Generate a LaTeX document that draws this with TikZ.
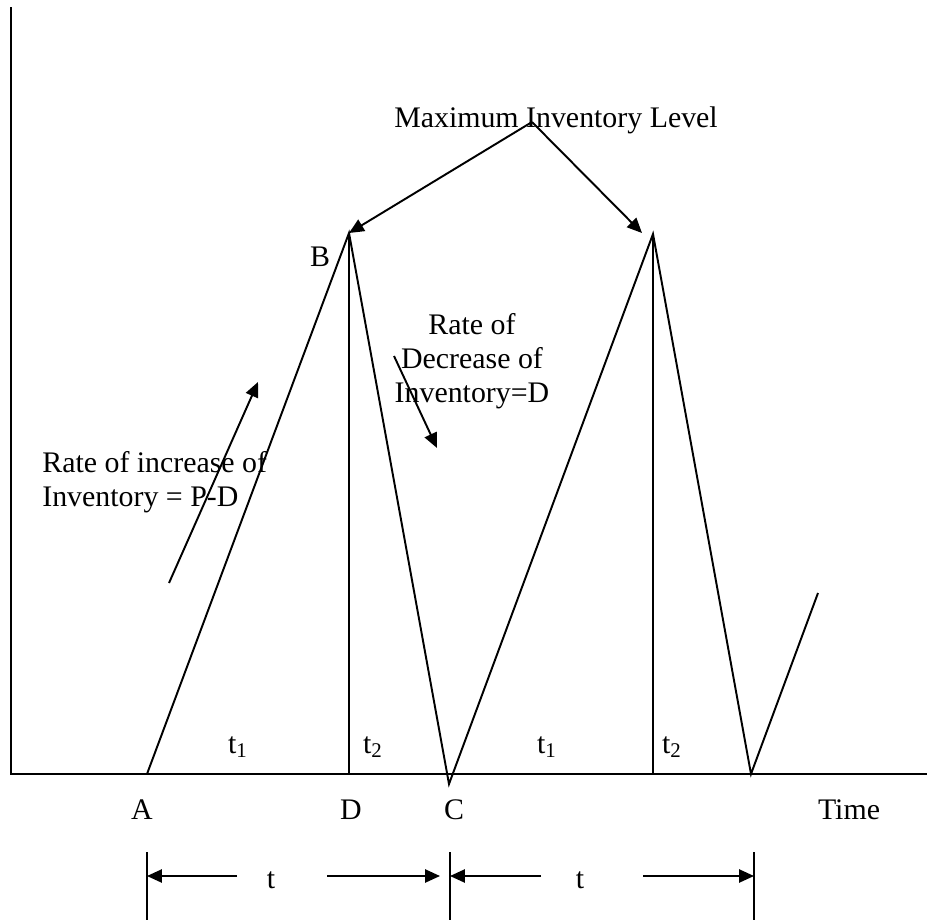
\documentclass[tikz,border=0pt]{standalone}
\usepackage{fontspec}
\setmainfont{Liberation Serif}
\usetikzlibrary{arrows.meta}

\tikzset{
  curve/.style={line width=1.1pt},
  pointer/.style={line width=1.1pt,-{Triangle[length=8.5pt,width=7.5pt]}},
  lbl/.style={font=\fontsize{17}{19.5}\selectfont, inner sep=0pt},
}

\begin{document}
\begin{tikzpicture}[x=0.02cm,y=-0.02cm]
    \useasboundingbox (0,0) rectangle (927,920);

    % axes
    \coordinate (top) at (11,7);
    \coordinate (O) at (11,774);
    \coordinate (right) at (927,774);
    \draw[curve] (top) -- (O) -- (right);

    % saw-tooth inventory curve
    \coordinate (A) at (147,774);
    \coordinate (B) at (349,233);
    \coordinate (D) at (349,774);
    \coordinate (C) at (449,784);
    \coordinate (B2) at (653,234);
    \coordinate (D2) at (653,774);
    \coordinate (C2) at (751,774);
    \coordinate (A3) at (818,593);
    \draw[curve] (A) -- (B) -- (C) -- (B2) -- (C2) -- (A3);
    \draw[curve] (B) -- (D);
    \draw[curve] (B2) -- (D2);

    % labels on the time axis
    \node[lbl] (labA) at (142,810) {A};
    \node[lbl] (labD) at (351,810) {D};
    \node[lbl] (labC) at (454,810) {C};
    \node[lbl] (labT) at (849,810) {Time};
    \node[lbl] (labB) at (320,257) {B};
    \node[lbl] (t1a) at (238,747) {t\textsubscript{1}};
    \node[lbl] (t2a) at (373,747) {t\textsubscript{2}};
    \node[lbl] (t1b) at (547,747) {t\textsubscript{1}};
    \node[lbl] (t2b) at (672,747) {t\textsubscript{2}};

    % maximum level
    \node[lbl] (maxlvl) at (556,120) {Maximum Inventory Level};
    \coordinate (mx) at (532,122);
    \coordinate (tipR) at (642,233);
    \draw[pointer] (mx) -- (B);
    \draw[pointer] (mx) -- (tipR);

    % rates
    \node[lbl,align=left,anchor=west] (inc) at (42,482) {Rate of increase of\\Inventory = P-D};
    \coordinate (incS) at (169,583);
    \coordinate (incE) at (258,382);
    \draw[pointer] (incS) -- (incE);
    \node[lbl,align=center] (dec) at (472,361) {Rate of\\Decrease of\\Inventory=D};
    \coordinate (decS) at (394,356);
    \coordinate (decE) at (437,448);
    \draw[pointer] (decS) -- (decE);

    % cycle length t
    \coordinate (k1) at (147,852);
    \coordinate (k1e) at (147,920);
    \coordinate (k2) at (450,852);
    \coordinate (k2e) at (450,920);
    \coordinate (k3) at (754,852);
    \coordinate (k3e) at (754,920);
    \draw[curve] (k1) -- (k1e);
    \draw[curve] (k2) -- (k2e);
    \draw[curve] (k3) -- (k3e);
    \node[lbl] (ta) at (271,880) {t};
    \node[lbl] (tb) at (580,880) {t};
    \coordinate (a1s) at (237,876);
    \coordinate (a1e) at (147,876);
    \coordinate (a2s) at (327,876);
    \coordinate (a2e) at (440,876);
    \coordinate (a3s) at (541,876);
    \coordinate (a3e) at (450,876);
    \coordinate (a4s) at (643,876);
    \coordinate (a4e) at (754,876);
    \draw[pointer] (a1s) -- (a1e);
    \draw[pointer] (a2s) -- (a2e);
    \draw[pointer] (a3s) -- (a3e);
    \draw[pointer] (a4s) -- (a4e);
\end{tikzpicture}
\end{document}
